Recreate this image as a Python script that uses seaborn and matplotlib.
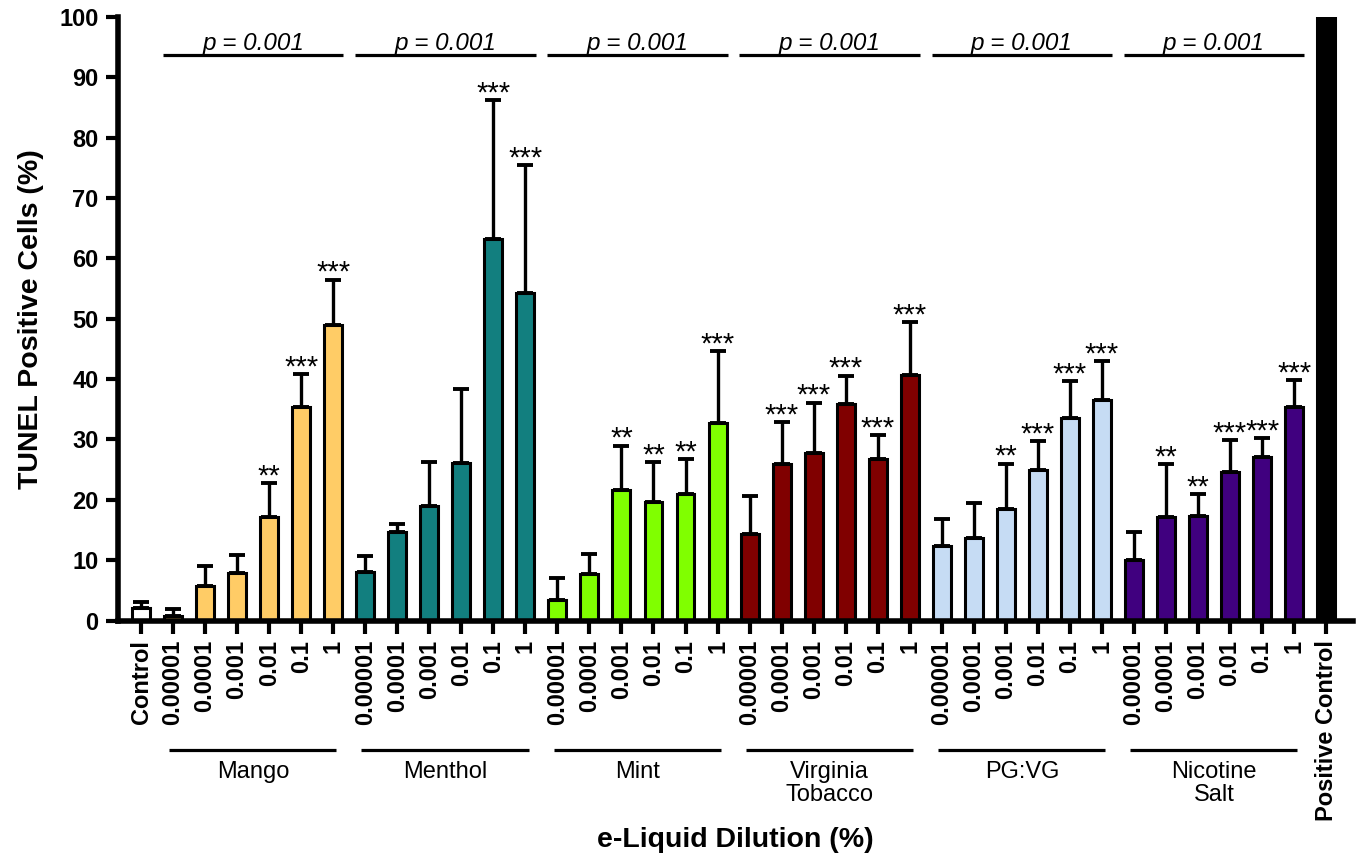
import numpy as np
import pandas as pd
import matplotlib
matplotlib.use("Agg")
import matplotlib.pyplot as plt
import matplotlib.transforms as mtransforms
import seaborn as sns

# ---- data ----
groups = ['Mango', 'Menthol', 'Mint', 'Virginia\nTobacco', 'PG:VG', 'Nicotine\nSalt']
dilutions = ['0.00001', '0.0001', '0.001', '0.01', '0.1', '1']
group_colors = ['#FFCC66', '#127F7F', '#80FF00', '#800000', '#C6DCF4', '#40007F']

control_mean = 2.0
control_top = 3.0
positive_mean = 100.0

mango_mean = [0.7, 5.7, 7.8, 17.2, 35.4, 48.9]
mango_top = [1.95, 9.0, 10.9, 22.8, 40.9, 56.5]
menthol_mean = [8.0, 14.6, 19.0, 26.1, 63.3, 54.2]
menthol_top = [10.7, 16.0, 26.2, 38.4, 86.3, 75.5]
mint_mean = [3.4, 7.7, 21.6, 19.7, 20.9, 32.8]
mint_top = [7.1, 11.1, 29.0, 26.2, 26.7, 44.6]
tobacco_mean = [14.4, 26.0, 27.7, 35.9, 26.8, 40.7]
tobacco_top = [20.7, 32.9, 36.1, 40.6, 30.7, 49.4]
pgvg_mean = [12.3, 13.6, 18.5, 24.9, 33.5, 36.5]
pgvg_top = [16.8, 19.5, 26.0, 29.8, 39.7, 43.0]
salt_mean = [10.0, 17.1, 17.3, 24.6, 27.1, 35.4]
salt_top = [14.7, 25.9, 21.0, 29.9, 30.2, 39.9]

mango_sig = ['', '', '', '**', '***', '***']
menthol_sig = ['', '', '', '', '***', '***']
mint_sig = ['', '', '**', '**', '**', '***']
tobacco_sig = ['', '***', '***', '***', '***', '***']
pgvg_sig = ['', '', '**', '***', '***', '***']
salt_sig = ['', '**', '**', '***', '***', '***']

p_label = 'p = 0.001'

# ---- build table ----
all_means = [mango_mean, menthol_mean, mint_mean, tobacco_mean, pgvg_mean, salt_mean]
all_tops = [mango_top, menthol_top, mint_top, tobacco_top, pgvg_top, salt_top]
all_sigs = [mango_sig, menthol_sig, mint_sig, tobacco_sig, pgvg_sig, salt_sig]

rows = [dict(cond='Control', group='Control', mean=control_mean, top=control_top, sig='')]
for g, m_list, t_list, s_list in zip(groups, all_means, all_tops, all_sigs):
    for d, m, t, s in zip(dilutions, m_list, t_list, s_list):
        rows.append(dict(cond=f'{g}|{d}', group=g, mean=m, top=t, sig=s))
rows.append(dict(cond='Positive Control', group='Positive Control', mean=positive_mean, top=np.nan, sig=''))
df = pd.DataFrame(rows)
df['pos'] = np.arange(len(df))

palette = {'Control': 'white', 'Positive Control': 'black'}
palette.update(dict(zip(groups, group_colors)))

tick_labels = ['Control'] + dilutions * len(groups) + ['Positive Control']

# ---- plot ----
sns.set_theme(style="ticks")
plt.rcParams['font.family'] = ['Liberation Sans', 'DejaVu Sans']
plt.rcParams['text.color'] = 'black'

fig = plt.figure(figsize=(13.62, 8.67), dpi=100)
ax = fig.add_axes([0.0866, 0.2843, 0.9068, 0.696])

sns.barplot(data=df, x='cond', y='mean', hue='group', palette=palette, dodge=False,
            order=list(df['cond']), width=0.56, edgecolor='black', linewidth=2.2,
            saturation=1, legend=False, ax=ax, zorder=2)

err = df.dropna(subset=['top'])
ax.errorbar(err['pos'], err['mean'], yerr=[np.zeros(len(err)), err['top'] - err['mean']],
            fmt='none', ecolor='black', elinewidth=2.4, capsize=5.5, capthick=2.8, zorder=1)

for _, r in df.iterrows():
    if r['sig']:
        ax.annotate(r['sig'], (r['pos'], r['top']), xytext=(0, -1), textcoords='offset points',
                    ha='center', va='baseline', fontsize=21, color='black')

ax.set_xlim(-0.72, len(df) - 1 + 0.84)
ax.set_ylim(0, 100)
ax.set_yticks(np.arange(0, 101, 10))
ax.set_xticks(df['pos'])
ax.set_xticklabels(tick_labels, rotation=90, fontweight='bold', fontsize=17)
for lbl in ax.get_yticklabels():
    lbl.set_fontweight('bold')
    lbl.set_fontsize(17)
ax.tick_params(axis='both', length=9, width=3, direction='out', pad=5,
               color='black', labelcolor='black')
ax.set_xlabel('')
ax.set_ylabel('')
for side in ['left', 'bottom']:
    ax.spines[side].set_linewidth(4)
    ax.spines[side].set_color('black')
sns.despine(ax=ax)

# group annotations: p-value lines above, group lines below
trans = mtransforms.blended_transform_factory(ax.transData, ax.transAxes)
for i, g in enumerate(groups):
    first = 1 + i * len(dilutions)
    last = first + len(dilutions) - 1
    ax.plot([first - 0.32, last + 0.32], [93.7, 93.7], color='black', lw=2.3,
            clip_on=False, solid_capstyle='butt')
    ax.text((first + last) / 2, 94.6, p_label, ha='center', va='baseline',
            fontsize=17.5, fontstyle='italic', color='black')
    ax.plot([first - 0.12, last + 0.1], [-0.2146, -0.2146], transform=trans, color='black',
            lw=2.3, clip_on=False, solid_capstyle='butt')
    ax.text((first + last) / 2, -0.232, g, transform=trans, ha='center', va='top',
            fontsize=17, linespacing=1.1, color='black')

ax.text(0.5, -0.364, 'e-Liquid Dilution (%)', transform=ax.transAxes, ha='center',
        va='center', fontsize=20.5, fontweight='bold', color='black')
ax.text(-0.0704, 0.5, 'TUNEL Positive Cells (%)', transform=ax.transAxes, ha='center',
        va='center', rotation=90, fontsize=20.5, fontweight='bold', color='black')

fig.savefig('out.png', dpi=100)
